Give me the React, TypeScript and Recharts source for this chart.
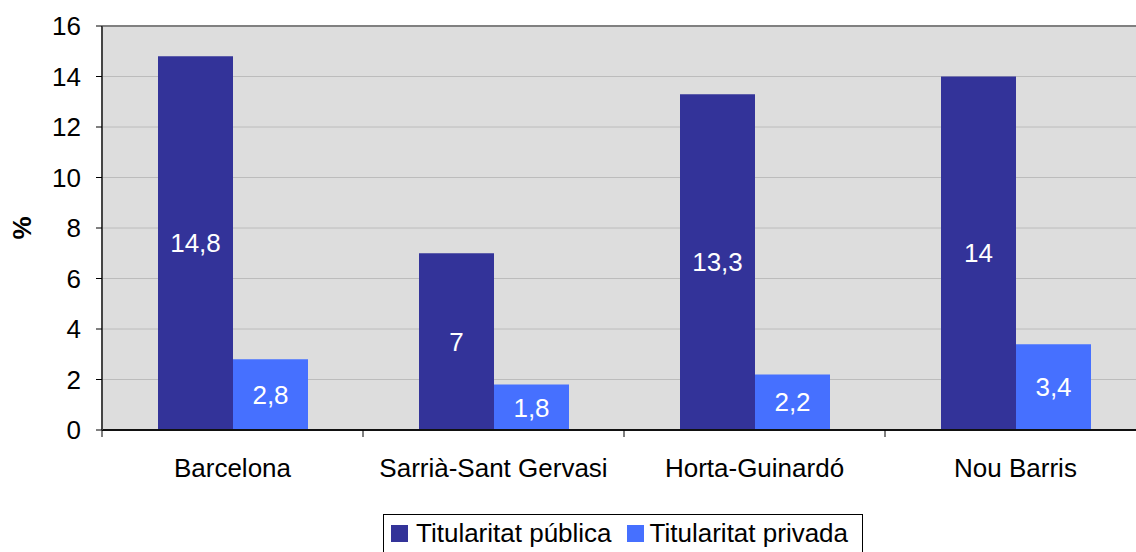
import { BarChart, Bar, XAxis, YAxis, CartesianGrid, LabelList, ReferenceLine } from 'recharts';

const districts = ['Barcelona', 'Sarrià-Sant Gervasi', 'Horta-Guinardó', 'Nou Barris'];
const publica = [14.8, 7, 13.3, 14];
const privada = [2.8, 1.8, 2.2, 3.4];
const yTicks = [0, 2, 4, 6, 8, 10, 12, 14, 16];

const PUB_COLOR = '#333399';
const PRIV_COLOR = '#4670FF';
const FONT = '"Liberation Sans", Arial, sans-serif';

const data = districts.map((name, i) => ({ name, publica: publica[i], privada: privada[i] }));

const fmt = (v: number) => String(v).replace('.', ',');

function CatTick(props: any) {
  const { x, y, payload } = props;
  const half = payload?.offset || 130.5;
  return (
    <g>
      <line x1={x - half} x2={x - half} y1={y} y2={y + 7} stroke="#000" strokeWidth={1} />
      <text x={x} y={y + 47} textAnchor="middle" fontSize={26} fontFamily={FONT} fill="#000">
        {payload.value}
      </text>
    </g>
  );
}

function PctLabel(props: any) {
  const { viewBox } = props;
  const cx = viewBox.x + 22;
  const cy = viewBox.y + viewBox.height / 2;
  return (
    <text x={cx} y={cy} transform={`rotate(-90 ${cx} ${cy})`} textAnchor="middle" dominantBaseline="central"
      fontSize={26} fontWeight="bold" fontFamily={FONT} fill="#000">%</text>
  );
}

export default function App() {
  return (
    <div style={{ position: 'absolute', left: 0, top: 0, width: 1136, height: 552, overflow: 'hidden', background: '#fff', fontFamily: FONT }}>
      <BarChart width={1146} height={552} data={data} barGap={0} barSize={75}
        margin={{ top: 26, right: 0, bottom: 62, left: 0 }}>
        <CartesianGrid vertical={false} stroke="#bcbcbc" strokeWidth={1} fill="#dddddd" fillOpacity={1} />
        <ReferenceLine y={16} stroke="#808080" strokeWidth={2} />
        <XAxis dataKey="name" interval={0} tickSize={0} tickMargin={0} tickLine={false}
          axisLine={{ stroke: '#111', strokeWidth: 2 }} tick={<CatTick />} height={60} />
        <YAxis width={102} domain={[0, 16]} ticks={yTicks} interval={0} tickSize={6} tickMargin={15}
          axisLine={{ stroke: '#444', strokeWidth: 2 }} tickLine={{ stroke: '#000' }}
          tick={{ fontSize: 26, fill: '#000', fontFamily: FONT }}
          label={{ content: <PctLabel /> }} />
        <Bar dataKey="publica" fill={PUB_COLOR} isAnimationActive={false}>
          <LabelList dataKey="publica" position="center" formatter={(v: any) => fmt(v)}
            style={{ fill: '#fff', fontSize: 26, fontFamily: FONT }} />
        </Bar>
        <Bar dataKey="privada" fill={PRIV_COLOR} isAnimationActive={false}>
          <LabelList dataKey="privada" position="center" formatter={(v: any) => fmt(v)}
            style={{ fill: '#fff', fontSize: 26, fontFamily: FONT }} />
        </Bar>
      </BarChart>

      {/* Legend */}
      <div style={{
        position: 'absolute', left: 383, top: 514, width: 478, height: 50,
        border: '1px solid #000', background: '#fff', boxSizing: 'content-box',
      }}>
        <div style={{ display: 'flex', alignItems: 'center', height: 36, paddingLeft: 7, fontSize: 26, color: '#000' }}>
          <span style={{ width: 17, height: 17, background: PUB_COLOR, display: 'inline-block', marginRight: 8 }} />
          <span>Titularitat pública</span>
          <span style={{ width: 17, height: 17, background: PRIV_COLOR, display: 'inline-block', marginLeft: 15, marginRight: 6 }} />
          <span>Titularitat privada</span>
        </div>
      </div>
    </div>
  );
}
